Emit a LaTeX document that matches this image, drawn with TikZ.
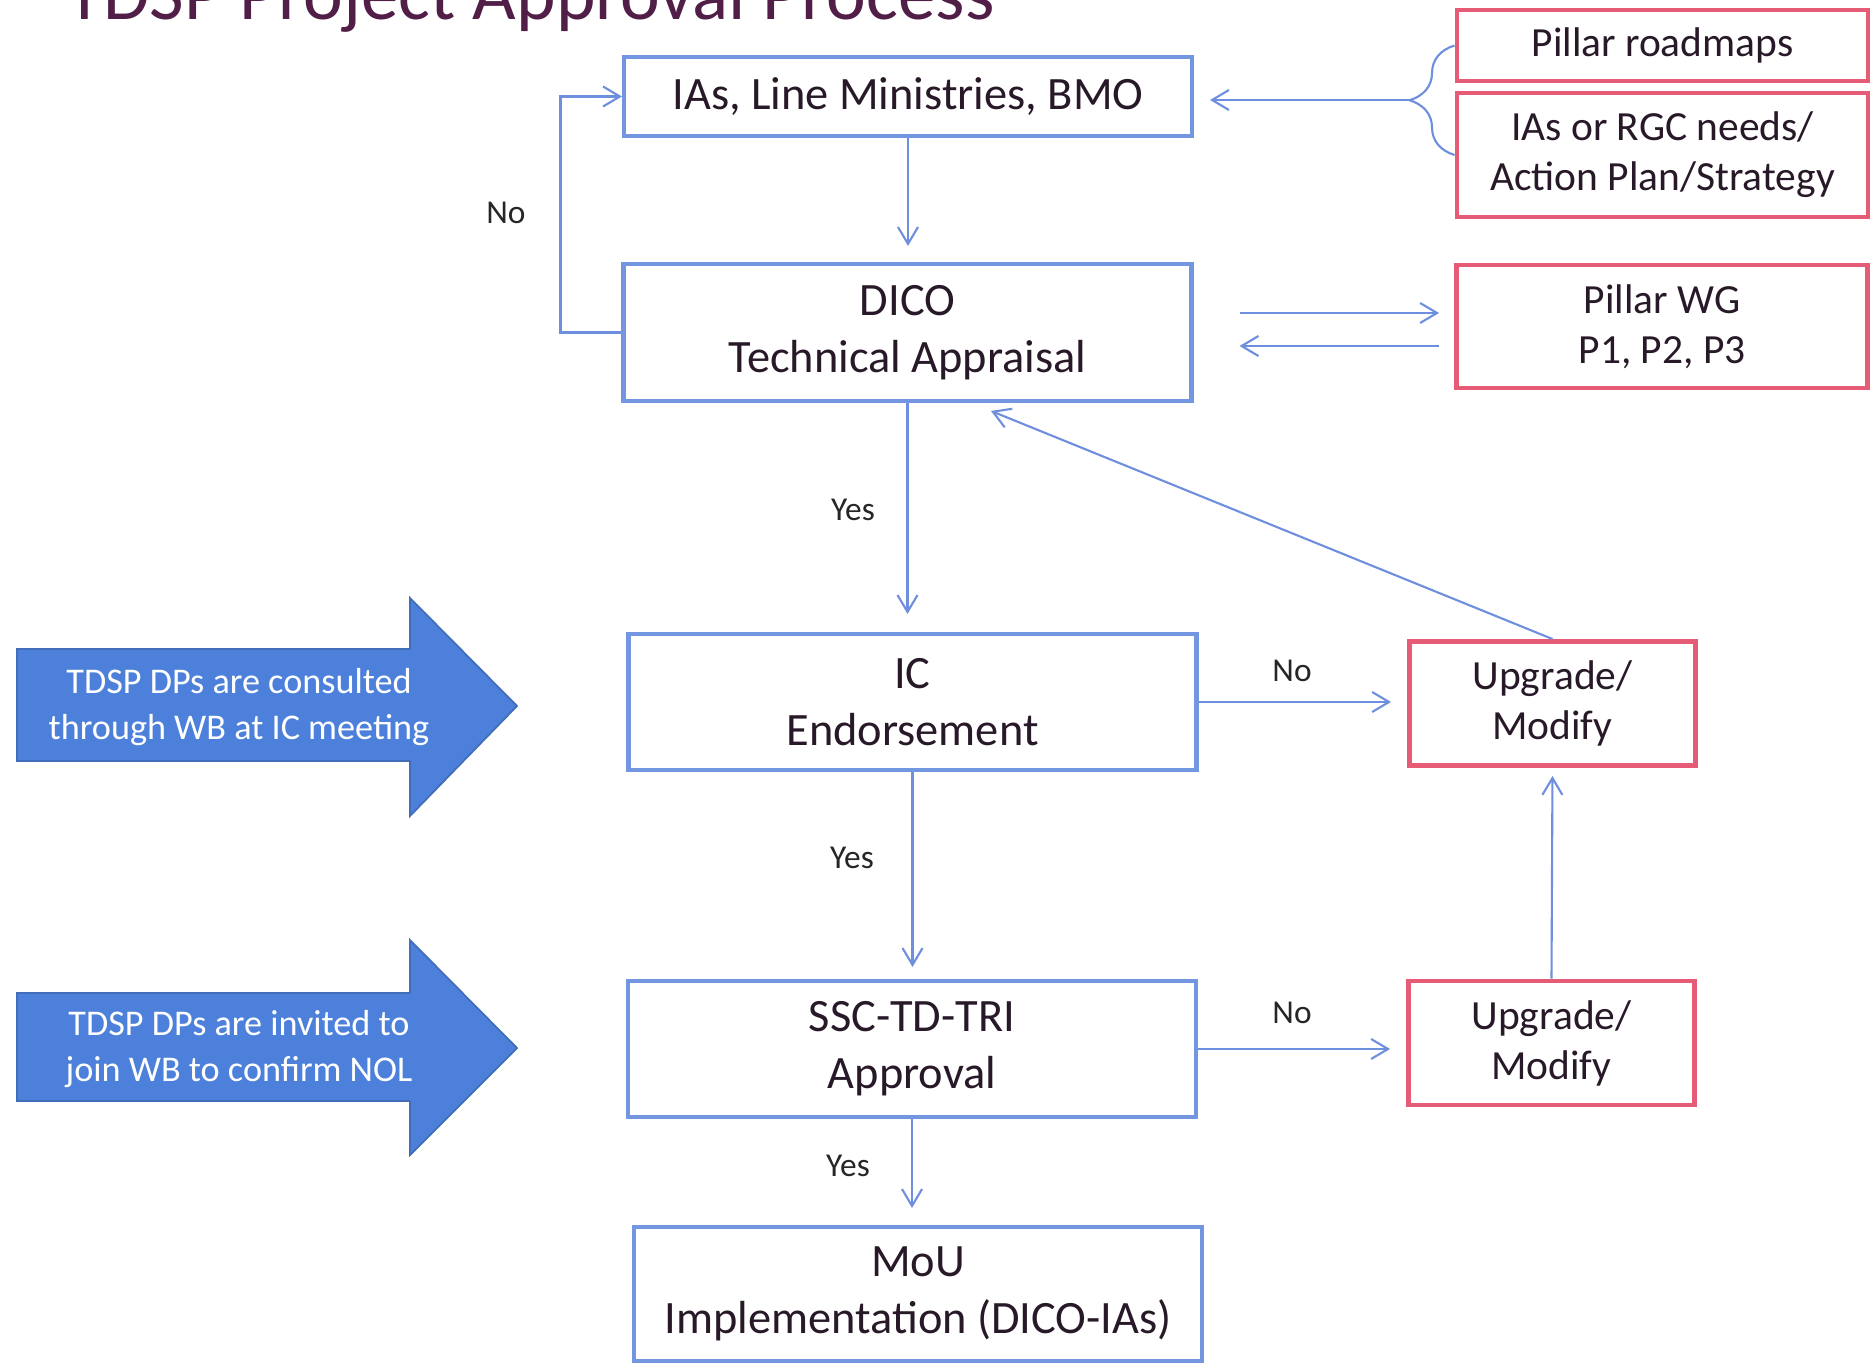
\documentclass[tikz,border=0pt]{standalone}
\usepackage{fontspec}
\setmainfont{Carlito}
\usepackage{tikz}
\usetikzlibrary{arrows.meta,positioning,decorations.pathreplacing,calc}
\usepackage{xcolor}
\definecolor{tdblue}{RGB}{115,150,225}
\definecolor{tdline}{RGB}{110,142,222}
\definecolor{tdred}{RGB}{230,92,118}
\definecolor{tdfill}{RGB}{76,128,218}
\definecolor{tdtext}{RGB}{40,25,40}
\definecolor{tdtitle}{RGB}{80,30,70}
\tikzstyle{stagebox} = [draw=tdblue, line width=1.15pt, minimum width=5.68cm, text=tdtext, align=center, font=\fontsize{13.2}{16.3}\selectfont]
\tikzstyle{inputbox} = [draw=tdred, line width=1.4pt, minimum width=4.11cm, text=tdtext, align=center, font=\fontsize{11.8}{14.2}\selectfont]
\tikzstyle{fixbox} = [inputbox, minimum width=2.86cm, minimum height=1.24cm]
\tikzstyle{link} = [line width=0.6pt, color=tdline, -{Straight Barb[length=4.8pt,width=5.7pt]}]
\tikzstyle{answer} = [text=black!85, font=\fontsize{9.5}{11}\selectfont]
\tikzstyle{dparrow} = [fill=tdfill, draw=tdfill!85!black, line width=0.5pt]
\tikzstyle{dpnote} = [text=white, align=center, font=\fontsize{10.3}{13}\selectfont]

\begin{document}
\begin{tikzpicture}
\useasboundingbox (0,0) rectangle (18.76,-13.63);

% Title, cut at the top of the slide
\node[anchor=base west, inner sep=0, text=tdtitle, font=\fontsize{21.4}{24}\selectfont] (title) at (0.66,-0.20) {TDSP Project Approval Process};

% Main chain
\node[stagebox, minimum height=0.79cm] (ias) at (9.08,-0.965) {IAs, Line Ministries, BMO};
\node[stagebox, minimum height=1.37cm] (dico) at (9.075,-3.325) {DICO\\Technical Appraisal};
\node[stagebox, minimum height=1.36cm] (ic) at (9.125,-7.02) {IC\\Endorsement};
\node[stagebox, minimum height=1.36cm] (ssc) at (9.12,-10.49) {SSC-TD-TRI\\Approval};
\node[stagebox, minimum height=1.34cm] (mou) at (9.18,-12.94) {MoU\\Implementation (DICO-IAs)};

% Inputs and rework boxes
\node[inputbox, minimum height=0.71cm] (roadmap) at (16.625,-0.455) {Pillar roadmaps};
\node[inputbox, minimum height=1.24cm] (needs) at (16.625,-1.55) {IAs or RGC needs/\\Action Plan/Strategy};
\node[inputbox, minimum height=1.23cm] (wg) at (16.62,-3.265) {Pillar WG\\P1, P2, P3};
\node[fixbox] (fixic) at (15.525,-7.035) {Upgrade/\\Modify};
\node[fixbox] (fixssc) at (15.515,-10.43) {Upgrade/\\Modify};

% Inputs feeding the IAs
\draw[tdline, line width=0.6pt, decorate, decoration={brace, amplitude=0.45cm}] (needs.west) -- (roadmap.west);
\coordinate (bracetip) at (14.13,-1.00);
\draw[link, shorten >=1.6mm] (bracetip) -- (bracetip -| ias.east);

% Appraisal loop
\draw[link, shorten >=1.6mm] (ias.south) -- (ias.south |- dico.north);
\draw[link] (dico.west) -- ++(-0.61,0) |- (ias.west);
\node[answer] (noloop) at (5.06,-2.13) {No};
\draw[link, shorten <=4.6mm, shorten >=1.5mm] ([yshift=1.95mm]dico.east) -- ([yshift=1.95mm]dico.east -| wg.west);
\draw[link, shorten <=1.5mm, shorten >=4.6mm] ([yshift=-1.35mm]dico.east -| wg.west) -- ([yshift=-1.35mm]dico.east);

% Endorsement and approval
\draw[link, shorten >=1.8mm] (dico.south) -- (dico.south |- ic.north);
\node[answer] (yesic) at (8.53,-5.10) {Yes};
\draw[link, shorten >=1.6mm] (ic.east) -- (ic.east -| fixic.west);
\node[answer] (noic) at (12.92,-6.71) {No};
\draw[link, shorten >=2.1mm] (fixic.north) -- ([xshift=6.4mm]dico.south);
\draw[link, shorten >=1.2mm] (ic.south) -- (ic.south |- ssc.north);
\node[answer] (yesssc) at (8.52,-8.58) {Yes};
\draw[link, shorten >=1.6mm] (ssc.east) -- (ssc.east -| fixssc.west);
\node[answer] (nossc) at (12.92,-10.13) {No};
\draw[link, shorten >=0.8mm] (fixssc.north) -- (fixic.south);
\draw[link, shorten >=1.7mm] (ssc.south) -- (ssc.south |- mou.north);
\node[answer] (yesmou) at (8.48,-11.66) {Yes};

% DP consultation arrows
\fill[dparrow] (0.17,-6.49) -- (4.10,-6.49) -- (4.10,-5.98) -- (5.17,-7.06) -- (4.10,-8.16) -- (4.10,-7.61) -- (0.17,-7.61) -- cycle;
\node[dpnote] (consult) at (2.39,-7.07) {TDSP DPs are consulted\\through WB at IC meeting};
\fill[dparrow] (0.17,-9.93) -- (4.10,-9.93) -- (4.10,-9.40) -- (5.17,-10.48) -- (4.10,-11.55) -- (4.10,-11.01) -- (0.17,-11.01) -- cycle;
\node[dpnote] (invite) at (2.39,-10.49) {TDSP DPs are invited to\\join WB to confirm NOL};
\end{tikzpicture}
\end{document}
